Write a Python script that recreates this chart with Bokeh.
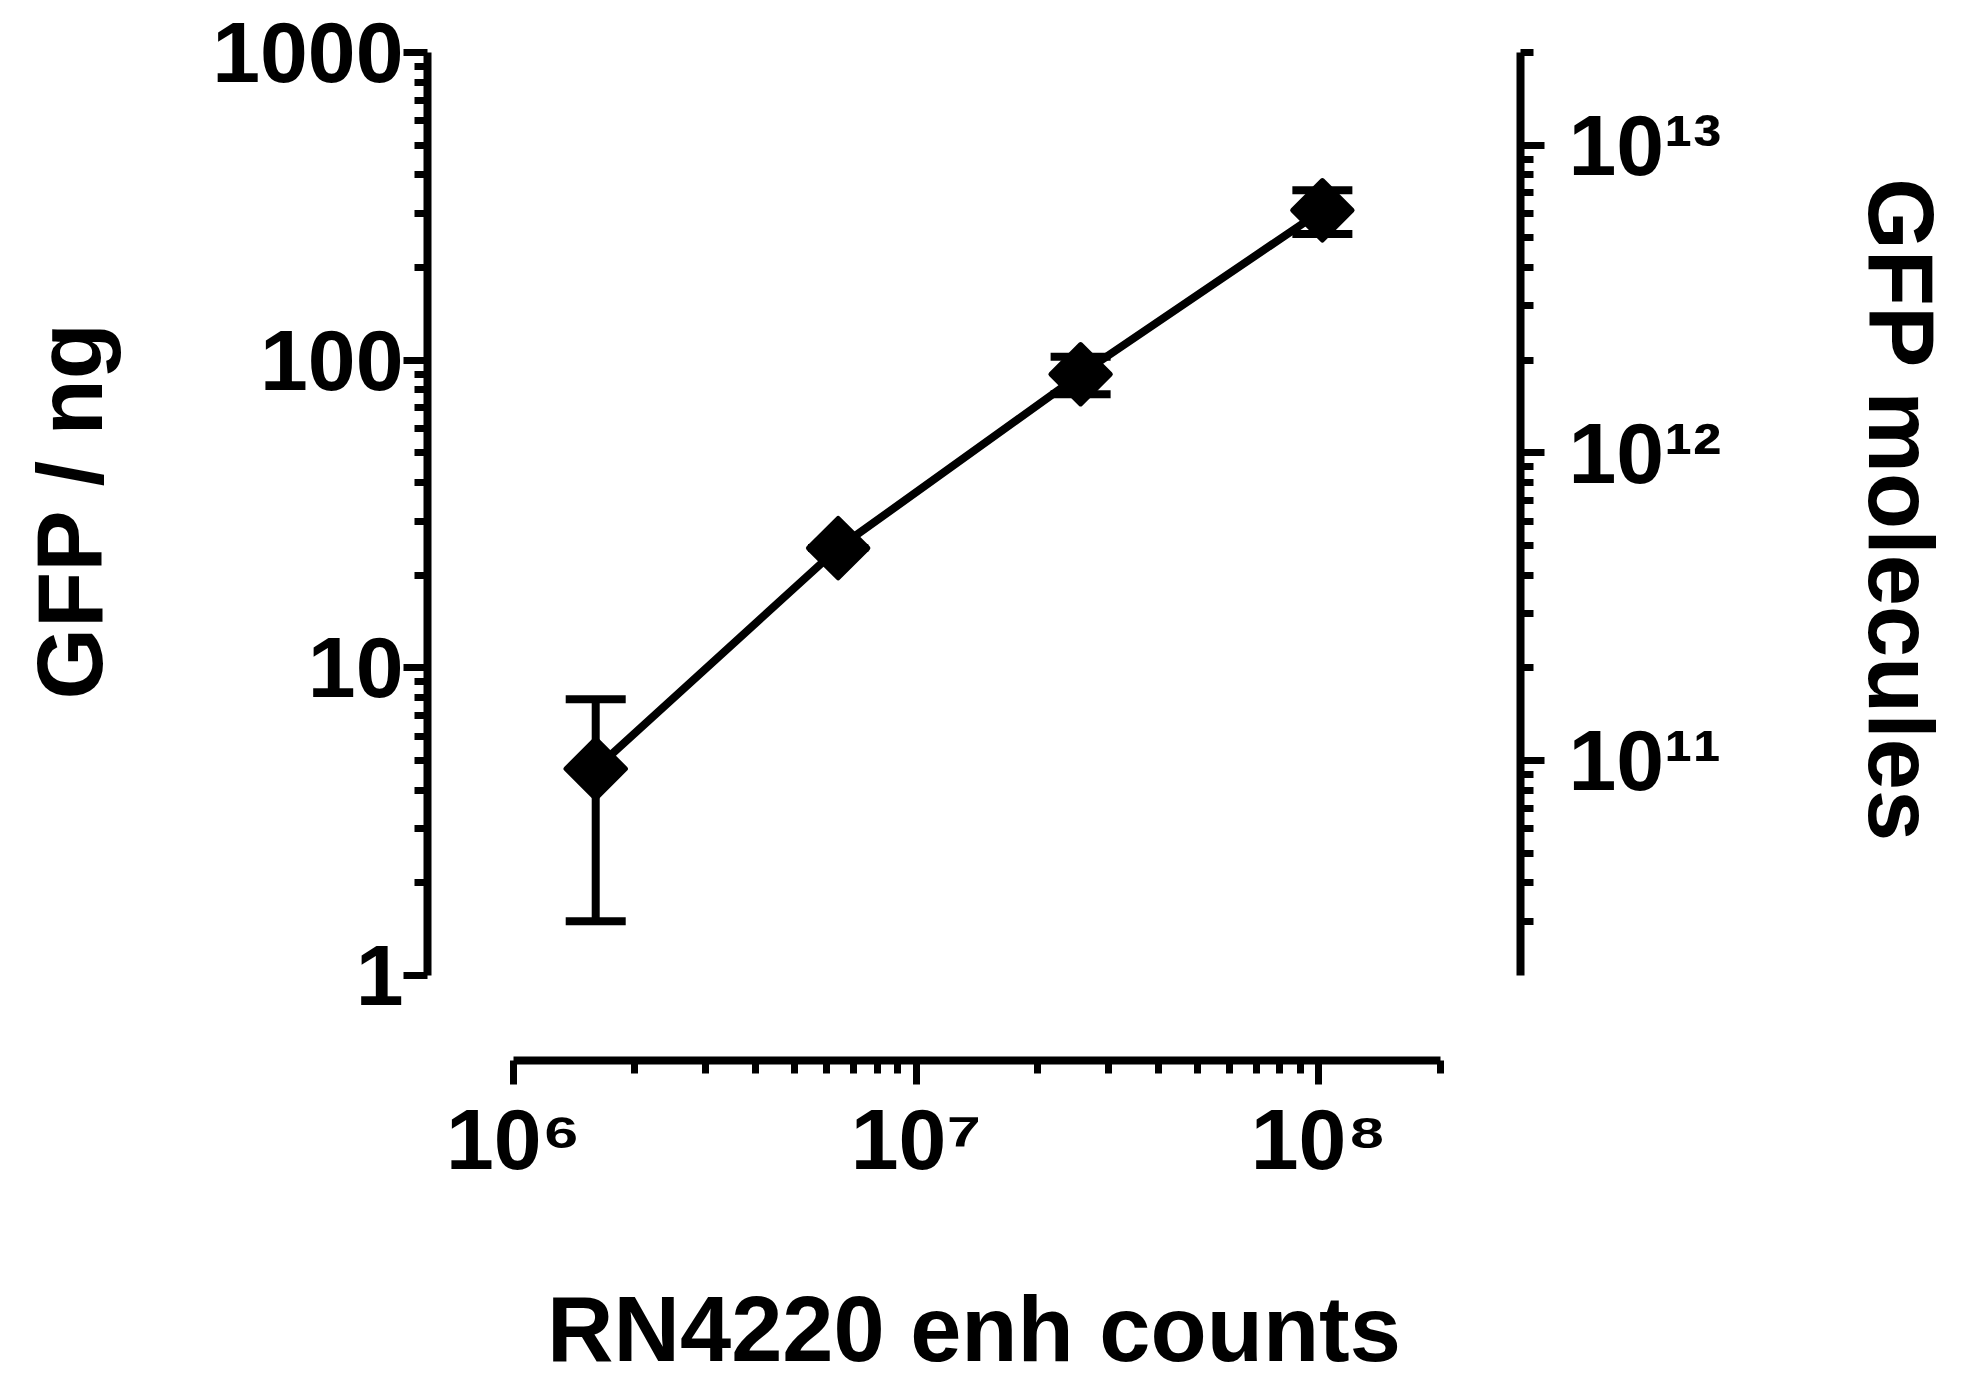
import numpy as np
from bokeh.plotting import figure
from bokeh.models import (Range1d, LogAxis, LogScale, FixedTicker, ColumnDataSource,
                          Whisker, TeeHead)
from bokeh.embed import file_html
from bokeh.resources import INLINE

# ---- data ----
counts = [1.6e6, 6.4e6, 2.56e7, 1.02e8]          # RN4220 enh counts
gfp_ng = [4.7, 24.5, 90.0, 307.0]                # GFP / ng (mean)
gfp_sd = [3.2, 0.0, 12.5, 50.0]                  # error (SD)
molecules_per_ng = 2.0e10                        # right-axis conversion

x_major = [1e6, 1e7, 1e8]
x_labels = {1e6: "10\u2076", 1e7: "10\u2077", 1e8: "10\u2078"}
y_major = [1, 10, 100, 1000]
y_labels = {1: "1", 10: "10", 100: "100", 1000: "1000"}
r_major = [1e11, 1e12, 1e13]
r_labels = {1e11: "10\u00b9\u00b9", 1e12: "10\u00b9\u00b2", 1e13: "10\u00b9\u00b3"}

x_title = "RN4220 enh counts"
y_title = "GFP / ng"
r_title = "GFP molecules"

# ---- layout ----
x_lo = 10 ** 5.7864
x_hi = 10 ** 8.5006
y_lo = 10 ** -0.2762
y_hi = 1000.0

FONT = "Liberation Sans"
EN = "\u2002"   # en spaces shift the vertical titles to sit centred on the drawn axis segment

p = figure(x_axis_type="log", y_axis_type="log",
           x_range=Range1d(x_lo, x_hi), y_range=Range1d(y_lo, y_hi),
           frame_width=1093, frame_height=1008,
           min_border_left=427, min_border_top=52, min_border_right=435, min_border_bottom=323,
           output_backend="svg", toolbar_location=None)
p.outline_line_color = None
p.xgrid.visible = False
p.ygrid.visible = False
p.background_fill_color = "white"
p.border_fill_color = "white"

p.extra_y_ranges = {"mol": Range1d(y_lo * molecules_per_ng, y_hi * molecules_per_ng)}
p.extra_y_scales = {"mol": LogScale()}
raxis = LogAxis(y_range_name="mol")
p.add_layout(raxis, "right")


def style(ax):
    ax.axis_line_width = 8
    ax.axis_line_color = "black"
    ax.major_tick_line_width = 7
    ax.minor_tick_line_width = 7
    ax.major_tick_line_color = "black"
    ax.minor_tick_line_color = "black"
    ax.major_tick_out = 24
    ax.major_tick_in = 0
    ax.minor_tick_out = 13
    ax.minor_tick_in = 0
    ax.major_label_text_font = FONT
    ax.major_label_text_font_style = "bold"
    ax.major_label_text_font_size = "86px"
    ax.major_label_text_color = "black"
    ax.axis_label_text_font = FONT
    ax.axis_label_text_font_style = "bold"
    ax.axis_label_text_font_size = "92px"
    ax.axis_label_text_color = "black"


xa = p.xaxis[0]
ya = p.yaxis[0]
for ax in (xa, ya, raxis):
    style(ax)

xa.bounds = (1e6, 2.0000001e8)
xa.ticker = FixedTicker(ticks=x_major,
                        minor_ticks=[m * 10 ** e for e in (6, 7) for m in range(2, 10)] + [2e8])
xa.major_label_overrides = x_labels
xa.major_label_standoff = 6
xa.axis_label = x_title
xa.axis_label_standoff = 88

ya.bounds = (1, 1000)
ya.ticker = FixedTicker(ticks=y_major,
                        minor_ticks=[m * 10 ** e for e in (0, 1, 2) for m in range(2, 10)])
ya.major_label_overrides = y_labels
ya.major_label_orientation = "horizontal"
ya.major_label_standoff = 0
ya.axis_label = EN * 2 + y_title
ya.axis_label_standoff = 88

raxis.bounds = (2e10, 2e13)
raxis.ticker = FixedTicker(ticks=r_major,
                           minor_ticks=[m * 1e10 for m in range(3, 10)]
                           + [m * 10 ** e for e in (11, 12) for m in range(2, 10)] + [2e13])
raxis.major_label_overrides = r_labels
raxis.major_label_orientation = "horizontal"
raxis.major_label_standoff = 24
raxis.axis_label = r_title + EN * 2
raxis.axis_label_standoff = 126

# ---- data marks ----
src = ColumnDataSource(dict(
    x=counts, y=gfp_ng,
    upper=[m + s for m, s in zip(gfp_ng, gfp_sd)],
    lower=[m - s for m, s in zip(gfp_ng, gfp_sd)],
))

wh = Whisker(source=src, base="x", upper="upper", lower="lower", dimension="height",
             line_width=8, line_color="black",
             upper_head=TeeHead(size=60, line_width=8, line_color="black"),
             lower_head=TeeHead(size=60, line_width=8, line_color="black"))
p.add_layout(wh)

p.line("x", "y", source=src, line_width=8, line_color="black")
p.scatter("x", "y", source=src, marker="square", size=42, angle=np.pi / 4,
          fill_color="black", line_color="black", line_width=5, line_join="round")

open("out.html", "w").write(file_html(p, INLINE))
